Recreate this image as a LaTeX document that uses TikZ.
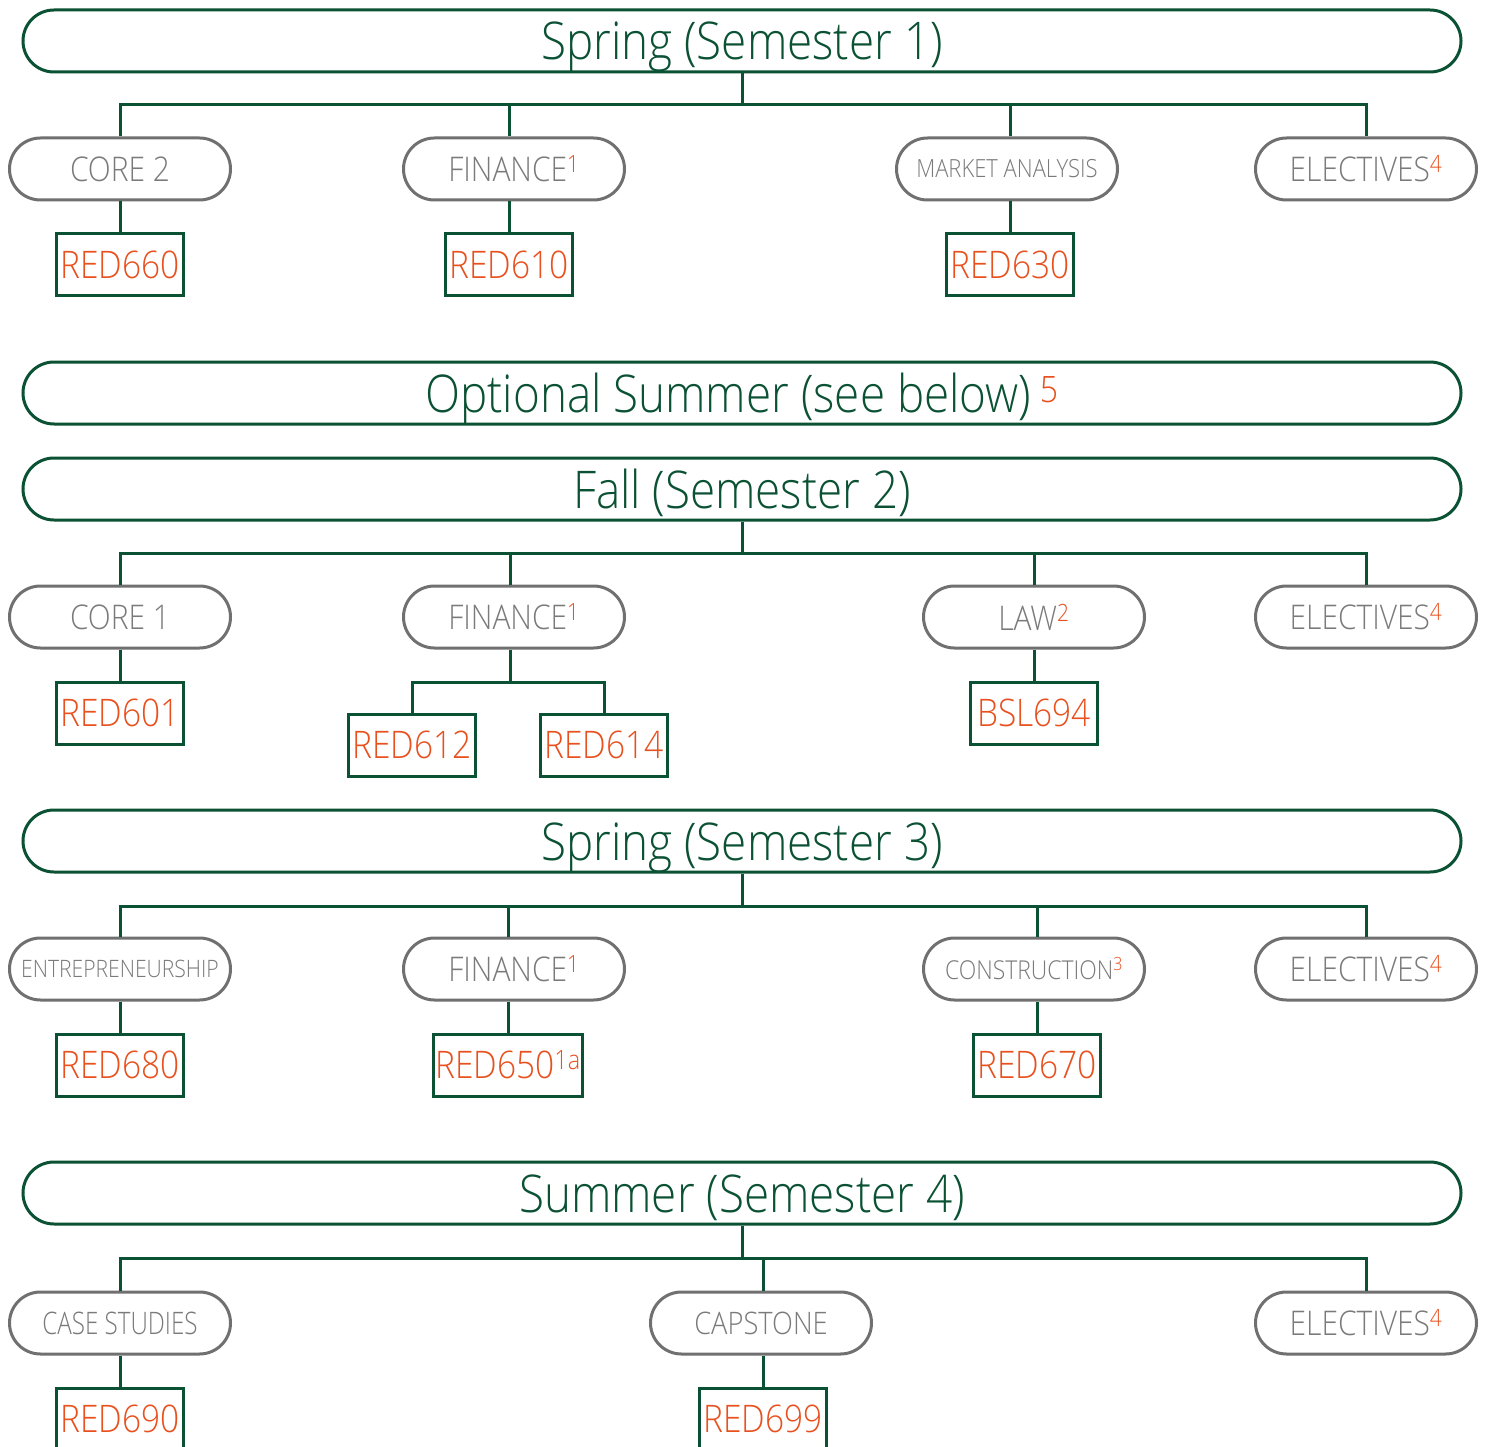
\documentclass[tikz,border=0pt]{standalone}
\usepackage{fontspec}
\setmainfont{Open Sans}[UprightFont={* Light}, FakeStretch=0.88]
\newfontfamily\condfont{Open Sans}[UprightFont={* Light}, FakeStretch=0.78]
\definecolor{grn}{HTML}{0B5134}
\definecolor{org}{HTML}{E8501E}
\definecolor{gry}{HTML}{7A7A7A}
\definecolor{pillg}{HTML}{707070}
\newcommand\orsup[1]{\textcolor{org}{\textsuperscript{#1}}}
\begin{document}
\begin{tikzpicture}[x=1pt,y=-1pt,
  bar/.style={draw=grn, line width=3pt, rounded corners=31pt, minimum width=1438pt, minimum height=62pt, text=grn, inner sep=0pt, text height=44pt, text depth=6pt, font=\fontsize{52}{52}\selectfont},
  pill/.style={draw=pillg, line width=3pt, rounded corners=31pt, minimum width=221pt, minimum height=62pt, text=gry, inner sep=0pt, font=\fontsize{34}{34}\selectfont},
  smallpill/.style={pill, font=\fontsize{24}{24}\selectfont},
  course/.style={draw=grn, line width=3pt, minimum width=127pt, minimum height=62pt, text=org, inner xsep=2pt, inner ysep=0pt, font=\fontsize{38}{38}\selectfont},
  conn/.style={draw=grn, line width=3pt}]
\useasboundingbox (0,0) rectangle (1486,1447);
\fill[white] (0,0) rectangle (1486,1447);

% ---------- Semester 1
\node[bar] (s1) at (742,41) {Spring (Semester 1)};
\coordinate (h1) at (742,105);
\node[pill] (core2) at (120,169) {CORE 2};
\node[pill] (fin1) at (514,169) {FINANCE\orsup{1}};
\node[smallpill, font=\fontsize{25}{25}\selectfont] (ma) at (1007,169) {MARKET ANALYSIS};
\node[pill] (el1) at (1366,169) {ELECTIVES\orsup{4}};
\node[course] (red660) at (120,265) {RED660};
\node[course] (red610) at (509,265) {RED610};
\node[course] (red630) at (1010,265) {RED630};
\draw[conn] (s1.south) -- (h1);
\draw[conn] (h1) -| (core2.north);
\draw[conn] (h1) -| (el1.north);
\draw[conn] (h1) -| (red610.north |- fin1.north);
\draw[conn] (h1) -| (red630.north |- ma.north);
\draw[conn] (core2.south) -- (red660.north);
\draw[conn] (red610.north |- fin1.south) -- (red610.north);
\draw[conn] (red630.north |- ma.south) -- (red630.north);

% ---------- Optional summer
\node[bar] (opt) at (742,393) {Optional Summer (see below)\,\textcolor{org}{\textsuperscript{5}}};

% ---------- Semester 2
\node[bar] (s2) at (742,489) {Fall (Semester 2)};
\coordinate (h2) at (742,553);
\node[pill] (core1) at (120,617) {CORE 1};
\node[pill] (fin2) at (514,617) {FINANCE\orsup{1}};
\node[pill] (law) at (1034,617) {LAW\orsup{2}};
\node[pill] (el2) at (1366,617) {ELECTIVES\orsup{4}};
\node[course] (red601) at (120,713) {RED601};
\node[course] (red612) at (412,745) {RED612};
\node[course] (red614) at (604,745) {RED614};
\node[course] (bsl694) at (1034,713) {BSL694};
\coordinate (f2) at (510,682);
\draw[conn] (s2.south) -- (h2);
\draw[conn] (h2) -| (core1.north);
\draw[conn] (h2) -| (f2 |- fin2.north);
\draw[conn] (h2) -| (law.north);
\draw[conn] (h2) -| (el2.north);
\draw[conn] (core1.south) -- (red601.north);
\draw[conn] (f2 |- fin2.south) -- (f2);
\draw[conn] (f2) -| (red612.north);
\draw[conn] (f2) -| (red614.north);
\draw[conn] (law.south) -- (bsl694.north);

% ---------- Semester 3
\node[bar] (s3) at (742,841) {Spring (Semester 3)};
\coordinate (h3) at (742,906);
\node[smallpill] (ent) at (120,969) {ENTREPRENEURSHIP};
\node[pill] (fin3) at (514,969) {FINANCE\orsup{1}};
\node[smallpill, font=\fontsize{26}{26}\selectfont] (cons) at (1034,969) {CONSTRUCTION\orsup{3}};
\node[pill] (el3) at (1366,969) {ELECTIVES\orsup{4}};
\node[course] (red680) at (120,1065) {RED680};
\node[course, minimum width=143pt] (red650) at (508,1065) {RED650\orsup{1a}};
\node[course] (red670) at (1037,1065) {RED670};
\draw[conn] (s3.south) -- (h3);
\draw[conn] (h3) -| (ent.north);
\draw[conn] (h3) -| (red650.north |- fin3.north);
\draw[conn] (h3) -| (red670.north |- cons.north);
\draw[conn] (h3) -| (el3.north);
\draw[conn] (ent.south) -- (red680.north);
\draw[conn] (red650.north |- fin3.south) -- (red650.north);
\draw[conn] (red670.north |- cons.south) -- (red670.north);

% ---------- Semester 4
\node[bar] (s4) at (742,1193) {Summer (Semester 4)};
\coordinate (h4) at (742,1258);
\node[pill, font=\condfont\fontsize{31}{31}\selectfont] (cs) at (120,1323) {CASE STUDIES};
\node[pill, font=\fontsize{31}{31}\selectfont] (cap) at (761,1323) {CAPSTONE};
\node[pill] (el4) at (1366,1323) {ELECTIVES\orsup{4}};
\node[course] (red690) at (120,1419) {RED690};
\node[course] (red699) at (763,1419) {RED699};
\draw[conn] (s4.south) -- (h4);
\draw[conn] (h4) -| (cs.north);
\draw[conn] (h4) -| (red699.north |- cap.north);
\draw[conn] (h4) -| (el4.north);
\draw[conn] (cs.south) -- (red690.north);
\draw[conn] (red699.north |- cap.south) -- (red699.north);
\end{tikzpicture}
\end{document}
